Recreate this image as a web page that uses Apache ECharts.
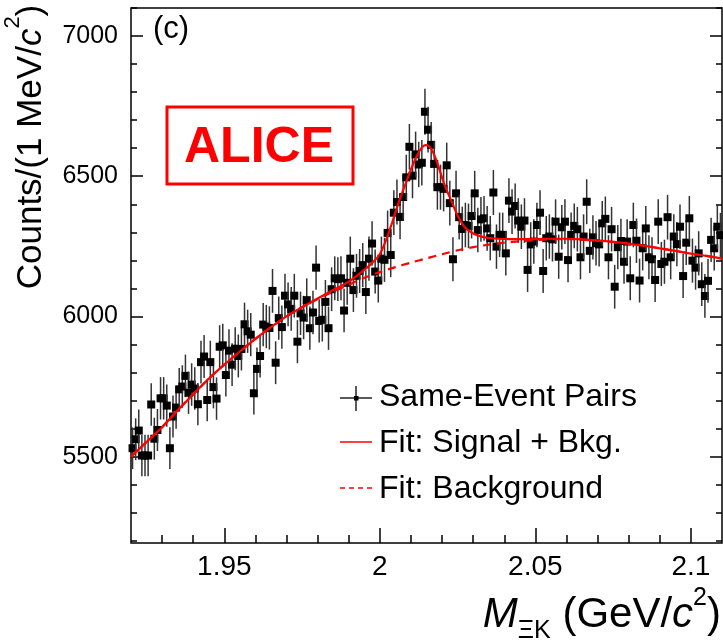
<!DOCTYPE html>
<html>
<head>
<meta charset="utf-8">
<title>Same-event XiK pairs</title>
<script src="https://cdn.jsdelivr.net/npm/echarts@6.0.0/dist/echarts.min.js"></script>
<style>
  html, body { margin: 0; padding: 0; background: #fff; }
  #chart { width: 723px; height: 640px; }
</style>
</head>
<body>
<div id="chart"></div>
<script>
// counts in 1 MeV bins, first bin centred at 1.9205 GeV
var counts = [
  5530, 5562, 5593, 5504, 5504, 5504, 5686, 5564, 5595, 5708,
  5708, 5682, 5530, 5643, 5675, 5740, 5750, 5788, 5728, 5757,
  5743, 5687, 5837, 5857, 5702, 5837, 5748, 5707, 5892, 5897,
  5791, 5878, 5828, 5885, 5859, 5884, 5972, 5947, 5935, 5726,
  5813, 5859, 5971, 5964, 5959, 6091, 5835, 5994, 5962, 6074,
  6043, 6027, 6074, 5910, 6011, 5996, 6058, 5958, 6014, 6174,
  5984, 5988, 6052, 5958, 6097, 6136, 6133, 6136, 6021, 6120,
  6206, 6094, 6145, 6162, 6183, 6087, 6206, 6260, 6160, 6128,
  6206, 6202, 6298, 6219, 6370, 6408, 6355, 6426, 6496, 6605,
  6502, 6578, 6542, 6548, 6730, 6666, 6612, 6544, 6461, 6461,
  6455, 6539, 6404, 6204, 6439, 6354, 6312, 6326, 6323, 6358,
  6439, 6308, 6346, 6350, 6314, 6279, 6442, 6249, 6291, 6291,
  6225, 6413, 6374, 6394, 6342, 6320, 6342, 6166, 6257, 6267,
  6326, 6370, 6162, 6279, 6285, 6275, 6338, 6213, 6318, 6338,
  6201, 6291, 6323, 6311, 6211, 6285, 6409, 6234, 6282, 6261,
  6257, 6332, 6348, 6211, 6311, 6106, 6247, 6269, 6195, 6267,
  6136, 6326, 6270, 6128, 6243, 6314, 6211, 6204, 6130, 6338,
  6187, 6195, 6354, 6211, 6285, 6258, 6320, 6144, 6263, 6350,
  6199, 6174, 6225, 6115, 6073, 6127, 6273, 6243, 6320, 6290
];
var firstBin = 1.9205;
var binWidth = 0.001;

// fit: signal + background
var fitX = [1.920, 1.925, 1.930, 1.935, 1.940, 1.945, 1.950, 1.955, 1.960, 1.965,
  1.970, 1.975, 1.980, 1.985, 1.990, 1.995, 1.998, 2.000, 2.002, 2.004,
  2.006, 2.008, 2.010, 2.012, 2.0135, 2.0146, 2.0158, 2.0170, 2.0187, 2.0208,
  2.0230, 2.0251, 2.0273, 2.030, 2.033, 2.037, 2.042, 2.050, 2.055, 2.060,
  2.065, 2.070, 2.075, 2.080, 2.085, 2.090, 2.095, 2.100, 2.105, 2.110];
var fitTotal = [5500, 5552, 5605, 5665, 5722, 5778, 5828, 5875, 5920, 5962,
  6000, 6033, 6064, 6094, 6124, 6166, 6196, 6222, 6272, 6336,
  6405, 6465, 6524, 6575, 6602, 6611, 6607, 6588, 6540, 6469,
  6412, 6358, 6318, 6296, 6284, 6278, 6276, 6276, 6277, 6277,
  6275, 6271, 6266, 6260, 6252, 6243, 6234, 6224, 6216, 6206];

// fit: background only
var bkgX = [1.920, 1.925, 1.930, 1.935, 1.940, 1.945, 1.950, 1.955, 1.960, 1.965,
  1.970, 1.975, 1.980, 1.985, 1.990, 1.995, 2.000, 2.005, 2.010, 2.015,
  2.020, 2.025, 2.030, 2.035, 2.040, 2.045, 2.050, 2.055, 2.060, 2.065,
  2.070, 2.075, 2.080, 2.085, 2.090, 2.095, 2.100, 2.105, 2.110];
var bkgY = [5500, 5552, 5605, 5665, 5722, 5778, 5828, 5875, 5920, 5962,
  6000, 6033, 6062, 6088, 6113, 6138, 6158, 6176, 6192, 6207,
  6222, 6236, 6247, 6256, 6263, 6268, 6272, 6275, 6276, 6274,
  6270, 6266, 6259, 6252, 6243, 6234, 6224, 6216, 6206];

var xMajor = [1.95, 2, 2.05, 2.1];
var xMinor = [1.93, 1.94, 1.96, 1.97, 1.98, 1.99, 2.01, 2.02, 2.03, 2.04,
  2.06, 2.07, 2.08, 2.09];
var yMajor = [5500, 6000, 6500, 7000];
var yMinor = [5200, 5300, 5400, 5600, 5700, 5800, 5900, 6100, 6200, 6300,
  6400, 6600, 6700, 6800, 6900, 7100];

var FONT = '"Liberation Sans", Arial, Helvetica, sans-serif';
var xMin = 1.92, xMax = 2.11, yMin = 5192, yMax = 7100;

var points = counts.map(function (c, i) {
  return [+(firstBin + i * binWidth).toFixed(4), c];
});
var fitData = fitX.map(function (x, i) { return [x, fitTotal[i]]; });
var bkgData = bkgX.map(function (x, i) { return [x, bkgY[i]]; });

function tickAxis(dim, pos, values, len, labels) {
  var ax = {
    type: 'value',
    position: pos,
    min: dim === 'x' ? xMin : yMin,
    max: dim === 'x' ? xMax : yMax,
    axisLine: { show: false },
    splitLine: { show: false },
    axisTick: {
      show: true, inside: true, length: len, customValues: values,
      lineStyle: { color: '#000', width: 1.5 }
    },
    axisLabel: { show: false }
  };
  if (labels) {
    ax.axisLabel = {
      show: true,
      customValues: values,
      color: '#000',
      fontFamily: FONT,
      fontSize: dim === 'x' ? 28 : 25,
      margin: dim === 'x' ? 10 : 13,
      formatter: function (v) { return String(+v.toFixed(2)); }
    };
  }
  return ax;
}

var chart = echarts.init(document.getElementById('chart'));

var option = {
  animation: false,
  backgroundColor: '#fff',
  grid: {
    left: 131, right: 1, top: 8, bottom: 97,
    show: true, borderColor: '#000', borderWidth: 1.5,
    outerBoundsMode: 'none'
  },
  xAxis: [
    tickAxis('x', 'bottom', xMajor, 15, true),
    tickAxis('x', 'bottom', xMinor, 8, false)
  ],
  yAxis: [
    tickAxis('y', 'left', yMajor, 12, true),
    tickAxis('y', 'left', yMinor, 6, false),
    tickAxis('y', 'right', yMajor, 12, false),
    tickAxis('y', 'right', yMinor, 6, false)
  ],
  series: [
    {
      name: 'Same-Event Pairs',
      type: 'custom',
      z: 2,
      data: points,
      renderItem: function (params, api) {
        var x = api.value(0), y = api.value(1);
        var err = Math.sqrt(y);
        var p = api.coord([x, y]);
        var hi = api.coord([x, y + err]);
        var lo = api.coord([x, y - err]);
        return {
          type: 'group',
          children: [
            {
              type: 'line',
              shape: { x1: p[0], y1: hi[1], x2: p[0], y2: lo[1] },
              style: { stroke: '#333', lineWidth: 1.5 }
            },
            {
              type: 'rect',
              shape: { x: p[0] - 4, y: p[1] - 4, width: 8, height: 8 },
              style: { fill: '#000' }
            }
          ]
        };
      }
    },
    {
      name: 'Fit: Background',
      type: 'line',
      z: 3,
      data: bkgData,
      showSymbol: false,
      smooth: 0.3,
      lineStyle: { color: '#ff0000', width: 2.2, type: [8, 6] }
    },
    {
      name: 'Fit: Signal + Bkg.',
      type: 'line',
      z: 4,
      data: fitData,
      showSymbol: false,
      smooth: 0.3,
      lineStyle: { color: '#ff0000', width: 2.2 }
    }
  ],
  graphic: [
    // y title
    {
      type: 'text', x: 31, y: 147, rotation: Math.PI / 2, z: 10,
      style: {
        text: '{n|Counts/(1 MeV/}{i|c}{s|2}{n|)}',
        align: 'center', verticalAlign: 'middle', fill: '#000',
        rich: {
          n: { fontSize: 35, fontFamily: FONT, lineHeight: 58 },
          i: { fontSize: 35, fontFamily: FONT, fontStyle: 'italic', lineHeight: 58 },
          s: { fontSize: 22, fontFamily: FONT, lineHeight: 22, verticalAlign: 'top' }
        }
      }
    },
    // x title
    {
      type: 'text', x: 721, y: 615, z: 10,
      style: {
        text: '{i|M}{sub|ΞK}{n| (GeV/}{i|c}{s|2}{n|)}',
        align: 'right', verticalAlign: 'middle', fill: '#000',
        rich: {
          n: { fontSize: 42, fontFamily: FONT, lineHeight: 58 },
          i: { fontSize: 42, fontFamily: FONT, fontStyle: 'italic', lineHeight: 58 },
          sub: { fontSize: 25, fontFamily: FONT, lineHeight: 34, verticalAlign: 'bottom' },
          s: { fontSize: 25, fontFamily: FONT, lineHeight: 31, verticalAlign: 'top' }
        }
      }
    },
    // panel label
    {
      type: 'text', x: 153, y: 29, z: 10,
      style: { text: '(c)', fontSize: 31, fontFamily: FONT, fill: '#000',
        align: 'left', verticalAlign: 'middle' }
    },
    // ALICE logo box
    {
      type: 'rect', z: 10,
      shape: { x: 167, y: 107, width: 186, height: 77 },
      style: { fill: 'none', stroke: '#ff0000', lineWidth: 3 }
    },
    {
      type: 'text', x: 259, y: 148, z: 10,
      style: { text: 'ALICE', fontSize: 50, fontWeight: 'bold', fontFamily: FONT,
        fill: '#ff0000', align: 'center', verticalAlign: 'middle' }
    },
    // legend
    {
      type: 'group', z: 10,
      children: [
        { type: 'line', shape: { x1: 340, y1: 398, x2: 372, y2: 398 },
          style: { stroke: '#000', lineWidth: 1.3 } },
        { type: 'line', shape: { x1: 356, y1: 386, x2: 356, y2: 411 },
          style: { stroke: '#000', lineWidth: 1.3 } },
        { type: 'rect', shape: { x: 354, y: 396, width: 4.5, height: 4.5 },
          style: { fill: '#000' } },
        { type: 'text', x: 379, y: 397.5,
          style: { text: 'Same-Event Pairs', fontSize: 32, fontFamily: FONT, fill: '#000',
            align: 'left', verticalAlign: 'middle' } },
        { type: 'line', shape: { x1: 340, y1: 442, x2: 372, y2: 442 },
          style: { stroke: '#ff0000', lineWidth: 1.5 } },
        { type: 'text', x: 379, y: 443.5,
          style: { text: 'Fit: Signal + Bkg.', fontSize: 32, fontFamily: FONT, fill: '#000',
            align: 'left', verticalAlign: 'middle' } },
        { type: 'line', shape: { x1: 340, y1: 488, x2: 372, y2: 488 },
          style: { stroke: '#ff0000', lineWidth: 1.5, lineDash: [5, 4] } },
        { type: 'text', x: 379, y: 489.5,
          style: { text: 'Fit: Background', fontSize: 32, fontFamily: FONT, fill: '#000',
            align: 'left', verticalAlign: 'middle' } }
      ]
    }
  ]
};

chart.setOption(option);
</script>
</body>
</html>
